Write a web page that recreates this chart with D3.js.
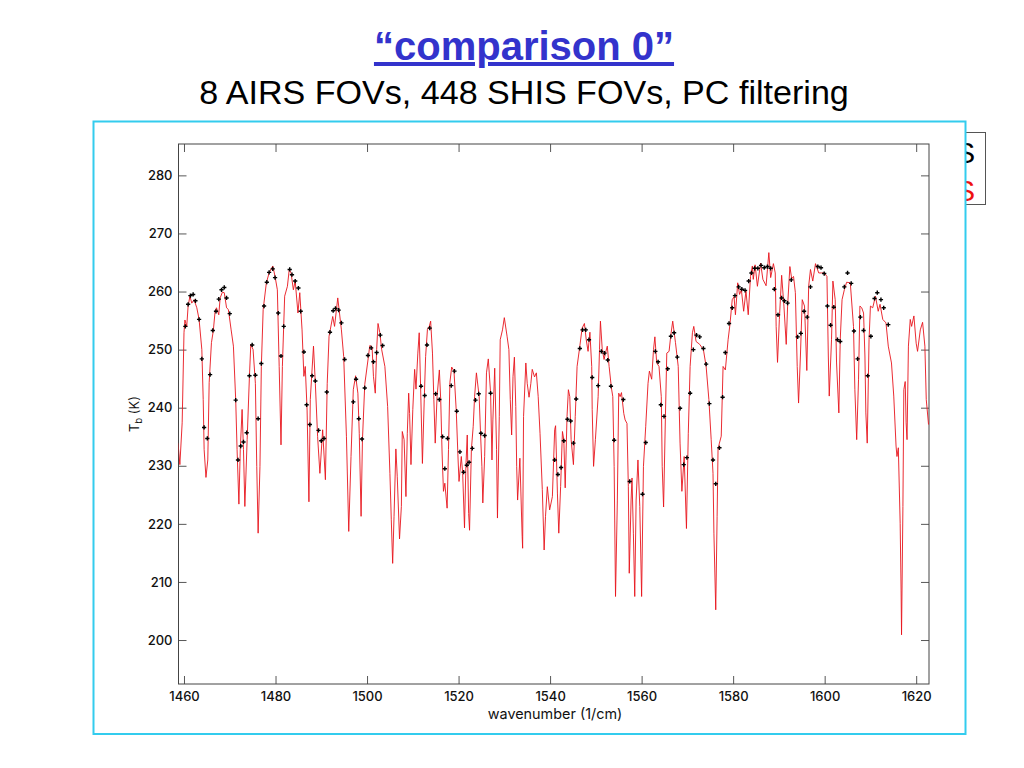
<!DOCTYPE html>
<html><head><meta charset="utf-8">
<style>html,body{margin:0;padding:0;background:#fff}svg{display:block}</style>
<script src="https://cdnjs.cloudflare.com/ajax/libs/d3/7.8.5/d3.min.js"></script>
</head><body><svg id="c" width="1024" height="768"></svg>
<script>
const titleText = "“comparison 0”";
const subtitleText = "8 AIRS FOVs, 448 SHIS FOVs, PC filtering";
const legendNames = ["AIRS","SHIS"];
const xTicks = [1460,1480,1500,1520,1540,1560,1580,1600,1620];
const yTicks = [200,210,220,230,240,250,260,270,280];
const shisWn = [1458.7,1459.1,1459.6,1460,1460.2,1460.6,1460.9,1461.3,1461.7,1462.2,1462.8,1463.3,1463.9,1464.2,1464.4,1464.8,1465.2,1465.5,1466,1466.4,1466.8,1467.1,1467.6,1467.9,1468.4,1468.8,1469.3,1469.7,1470.3,1470.8,1471.3,1471.6,1472,1472.3,1472.7,1473,1473.3,1473.8,1474.3,1474.6,1475.1,1475.6,1475.9,1476.2,1476.6,1476.9,1477.3,1478,1478.6,1479.4,1479.9,1480.4,1480.8,1481.2,1481.5,1482,1482.6,1483,1483.4,1483.9,1484.3,1484.9,1485.3,1485.8,1486.2,1486.5,1486.9,1487.3,1487.6,1487.9,1488.3,1488.7,1489.2,1489.7,1490.3,1490.9,1491.3,1491.7,1492.5,1492.9,1493.6,1494.4,1494.9,1495.5,1496,1496.5,1497,1497.5,1498,1498.3,1498.7,1499,1499.5,1500.3,1500.6,1501.1,1501.4,1501.8,1502.1,1502.4,1502.8,1503.2,1503.9,1504.5,1505,1505.3,1505.6,1505.9,1506.3,1506.6,1507.1,1507.5,1507.7,1508.1,1508.5,1508.8,1509.1,1509.3,1509.6,1510,1510.4,1510.7,1511.1,1511.4,1511.7,1512.1,1512.5,1512.8,1513.2,1513.6,1513.9,1514.3,1514.6,1514.9,1515.3,1515.8,1516.1,1516.4,1516.7,1517,1517.5,1517.8,1518.1,1518.5,1519,1519.5,1519.9,1520.1,1520.6,1520.9,1521.3,1521.6,1521.9,1522.2,1522.4,1522.8,1523.2,1523.5,1523.9,1524.5,1524.8,1525.1,1525.3,1525.7,1526.1,1526.5,1527,1527.3,1527.5,1527.9,1528.3,1528.5,1528.9,1529.1,1529.6,1530,1530.6,1531,1531.3,1531.6,1531.9,1532.2,1532.5,1532.7,1532.9,1533.4,1533.9,1534,1534.2,1534.7,1535,1535.4,1535.8,1536.1,1536.6,1537,1537.4,1537.8,1538.3,1538.7,1539,1539.4,1539.9,1540.5,1541,1541.2,1541.6,1541.9,1542.3,1542.7,1543,1543.3,1543.7,1544,1544.3,1544.6,1545.1,1545.5,1545.9,1546.5,1547,1547.5,1547.9,1548.3,1548.7,1549.1,1549.2,1549.5,1549.9,1550.5,1550.8,1551,1551.4,1551.8,1552.1,1552.5,1552.9,1553.4,1553.7,1554,1554.3,1554.7,1555,1555.3,1555.6,1556.1,1556.4,1556.8,1557.1,1557.3,1557.7,1557.9,1558.2,1558.5,1558.8,1559.2,1559.6,1560,1560.4,1560.9,1561.4,1561.7,1562.2,1562.6,1562.9,1563.3,1563.8,1564.3,1564.5,1564.8,1565.2,1565.5,1566,1566.4,1566.8,1567.4,1568,1568.4,1568.8,1569.3,1569.8,1570.2,1570.6,1571.1,1571.4,1571.9,1572.7,1573.5,1574.1,1574.7,1575.2,1575.6,1575.8,1576.2,1576.5,1576.7,1577,1577.4,1577.8,1578.3,1578.9,1579.3,1579.8,1580.2,1580.5,1581,1581.4,1581.8,1582.3,1582.8,1583.3,1583.8,1584.2,1584.4,1584.8,1585.3,1586,1586.5,1587.2,1587.8,1588.2,1588.8,1589.2,1589.4,1589.7,1590.1,1590.6,1591.1,1591.6,1591.9,1592.4,1592.8,1593.2,1593.6,1594,1594.3,1594.7,1595.1,1595.6,1596.1,1596.5,1596.9,1597.4,1598,1598.7,1599.3,1599.9,1600.5,1600.8,1601,1601.5,1601.8,1602.3,1602.6,1603.1,1603.4,1603.8,1604.3,1604.8,1605.6,1606.3,1606.6,1607,1607.4,1607.7,1608.1,1608.5,1608.8,1609,1609.3,1609.7,1610,1610.5,1611.1,1611.7,1612.1,1612.7,1613.4,1613.9,1614.6,1615.1,1615.6,1615.8,1616.1,1616.5,1616.7,1616.8,1617.1,1617.3,1617.6,1617.8,1618,1618.3,1618.7,1619,1619.5,1620,1620.3,1620.9,1621.4,1621.9,1622.2,1622.7];
const shisT = [233.9,230.2,237.4,252.9,255.1,254,257.5,259.2,258,258.6,257.2,255.2,250,241.4,232.8,228,231,244.3,251.2,253.2,256.6,257.2,256,258.9,259.9,259.8,257.2,256.9,253.4,250.6,241.4,232.8,223.4,232.8,239.7,232.8,223,234.5,245.4,250.9,250,244.2,229.9,218.4,229.9,247.1,256.9,261.5,263.2,264.4,262.6,260.3,247.1,233.6,247.1,259.2,260.9,263.8,263.2,260.3,261.8,256.3,259.8,253.4,245.4,247.1,239.6,223.8,241.4,245.4,250.6,244.2,235,228.7,236.2,227.6,244.2,252.3,255.7,254,258.9,253.4,248.8,235,218.7,231.6,243.1,245.5,242.5,235.6,221.3,234.5,244,248.8,250.7,250.5,245.4,242.5,250,254.5,252.9,250,247.1,240.2,228.7,220.7,213.2,221.3,232.9,228.2,217.4,223,235.9,234.5,224.7,235.6,242.5,239,230.2,239.7,246.6,243.2,249.4,252.9,243.7,230.4,241.4,248.8,253.5,254,254.9,249.4,241.4,233.9,241.9,246.5,241.4,232.2,225.6,227,222.7,232.8,244.3,247,246.3,239.4,231,227.3,231.6,228.7,219.3,229.9,235.3,221.8,218.9,232.8,236.8,241.9,246,241.9,235.6,229.9,223.6,231.6,246,248.4,242.5,231,237.9,246.8,232.8,221,238.5,251.7,253.4,255.5,252.3,250,241.4,235.3,245.4,248.7,240.2,229.9,224.1,231.3,217.8,215.8,238.5,247.7,244.2,241.8,244.2,246.6,245.3,246,241.9,235.6,225.9,215.5,221.3,226.4,222.4,224.7,236.2,236.9,225.3,218.4,226.4,235.9,234.5,226.2,238.5,243.1,241.9,234.5,230.2,238.5,247.1,250.6,253.7,254.5,251.7,249.7,253,247.1,239.7,229.9,234.5,241.9,250,254.9,250,248.3,249.4,250.6,247.1,243.4,241.9,229.9,207.5,224.1,242.5,241.9,242.6,239,237.9,237.3,226.4,211.5,224.1,227.9,218.4,207.5,224.1,231,223,207.5,229.9,236.8,244.2,246.3,244.9,250,252.2,247.7,247.1,241.9,229.9,222.9,238.5,249.4,249.7,252.6,254.9,251.2,247.1,233.9,225.6,231.6,219.2,235.6,247.1,252.9,254,251.4,250.9,250,247.1,241.4,234.5,228.7,218.4,205.2,221.3,232.8,233.9,235.1,247.1,246.5,251.7,254.3,258.6,259.1,256,261.5,259.5,260.3,256.6,260.1,256,262.6,264.4,262.1,264.6,260.9,264.9,262.1,261,266.7,262.4,264.8,263.2,254,247.8,255.2,262.8,257.5,250.9,257.5,264.3,262.2,262.6,259.8,247.1,240.8,248.9,258.6,257.5,246.4,260.9,263.8,261.8,264.8,263.2,263.2,263.2,262.6,248.9,242,251.7,261.8,258.6,247.7,239.1,251.7,258.6,260.3,261.6,261.5,254,243.1,234.5,244.8,257.5,257.2,256.3,248.9,239.1,233.9,251.7,257.5,257.2,259.2,256.6,257.8,255.2,254.6,250.6,247.7,242,233.4,231.6,233.1,220.1,208.6,200.9,223,243.1,244.5,237.4,234.5,250.6,255.2,254,255.8,251.1,249.7,253.4,254.7,250.6,241.4,237.1];
const airsWn = [1460.3,1460.9,1461.4,1462,1462.5,1463.3,1463.9,1464.4,1465.1,1465.7,1466.3,1467,1467.6,1468.2,1468.8,1469.3,1470,1471.3,1471.8,1472.4,1473,1473.7,1474.3,1474.9,1475.6,1476.2,1476.9,1477.5,1478.1,1478.6,1479.4,1479.9,1480.6,1481.2,1481.8,1483.1,1483.6,1484.3,1485,1485.5,1486.2,1486.8,1487.5,1488,1488.7,1489.4,1490,1490.6,1491.2,1491.9,1492.6,1493.1,1493.8,1494.4,1495.1,1497,1497.6,1498.2,1498.9,1499.5,1500.2,1500.9,1501.4,1502.1,1502.9,1503.4,1511.8,1512.6,1513.1,1513.7,1515,1515.8,1516.5,1517,1517.6,1518.4,1519.1,1519.6,1520.3,1521.1,1521.8,1522.3,1523,1523.7,1524.4,1524.9,1525.7,1527,1541,1541.7,1542.4,1543,1543.8,1544.5,1545.1,1545.7,1546.5,1547.1,1547.8,1548.5,1549.2,1550.5,1551.2,1551.9,1552.6,1553.3,1554,1556,1557.4,1560.2,1560.9,1563,1563.6,1564.2,1564.9,1565.7,1566.4,1567.1,1567.8,1568.4,1569.2,1569.9,1570.6,1571.3,1572,1572.7,1573.5,1574.1,1574.8,1575.6,1576.2,1577,1577.7,1578.3,1579.1,1579.8,1580.4,1581.2,1581.9,1582.6,1583.4,1584,1584.7,1585.4,1586.1,1586.8,1587.5,1588.2,1589,1589.8,1590.6,1591.2,1591.9,1592.7,1594.1,1594.8,1595.5,1596.2,1596.9,1598.5,1599.2,1599.9,1600.6,1601.3,1602,1602.8,1603.4,1604.3,1605,1605.8,1606.4,1607.2,1607.8,1608.5,1609.4,1610.1,1610.9,1611.5,1612.3,1612.9,1613.9];
const airsT = [254,257.8,259.3,259.5,258.4,255.2,248.4,236.6,234.7,245.7,253.3,256.6,258.7,260.3,260.7,258.9,256.2,241.3,231,233.4,234.1,235.7,245.5,250.8,245.6,238.1,247.6,257.5,261.6,263.3,263.9,262.4,256.3,248.9,254,263.8,262.9,261.8,260.6,256.6,249.6,240.5,237.1,245.5,244.6,236.1,234.3,234.7,242.7,253,256.7,257.1,256.8,254.6,248.3,241,244.9,238.1,234.6,243.4,249,250.3,247.9,249.5,252.5,250.7,243.7,242.1,250.8,253.7,242.4,241.4,235,229.5,234.7,243.8,246.3,239.4,232.4,228.9,230.1,230.6,233,241.3,242.4,235.6,235.2,242.5,231,228.5,229.7,234.3,238,237.7,233.9,241.5,250.2,253.4,253.4,251.7,245.2,243.8,249.7,249.4,248.2,243.7,234.4,241.4,227.3,225.1,234,249.7,247.9,240.5,238.5,246.7,252.3,252.9,248.7,239.9,230.2,231.4,242.5,250,252.5,252.2,250.2,247.5,240.7,231,226.9,233.1,241.8,249.5,254.5,257.2,259.3,260.8,260.4,260.2,261.8,263.2,264,264,264.5,264.1,264.3,264,260.4,256,258.9,258.4,258,262,252.2,252.8,256.6,255.6,260.8,264.3,264.1,263.1,257.5,254.2,257.3,251.7,251.4,260.8,263.2,261.4,253.2,248.4,255.6,253.3,245.5,252.3,258.8,259.8,258.6,257.2,254.3];

const svg = d3.select("#c");
const font = "'Liberation Sans',Arial,sans-serif";
const axisFont = "Inter,'Liberation Sans',sans-serif";
const x = d3.scaleLinear().domain([1458.8,1622.8]).range([178.5,929]);
const y = d3.scaleLinear().domain([192.43,285.4]).range([684,144]);

svg.append("text").attr("x",524).attr("y",60).attr("text-anchor","middle")
  .attr("font-family",font).attr("font-size",40).attr("font-weight","bold")
  .attr("fill","#3333cc").attr("text-decoration","underline").text(titleText);
svg.append("text").attr("x",524).attr("y",104).attr("text-anchor","middle")
  .attr("font-family",font).attr("font-size",34.1).attr("fill","#000").text(subtitleText);

// legend behind the panel
svg.append("rect").attr("x",800.5).attr("y",132.5).attr("width",185).attr("height",72)
  .attr("fill","#fff").attr("stroke","#555").attr("stroke-width",1);
svg.selectAll("text.leg").data(legendNames).join("text").attr("class","leg")
  .attr("x",975).attr("y",(d,i)=>163+i*38).attr("text-anchor","end")
  .attr("font-family",font).attr("font-size",29)
  .attr("fill",(d,i)=>i?"#ee1111":"#000").text(d=>d);

// panel
svg.append("rect").attr("x",93.5).attr("y",121.5).attr("width",872).attr("height",612.5)
  .attr("fill","#fff").attr("stroke","#33ccee").attr("stroke-width",2);

// axes
const g = svg.append("g");
const frameColor = "#444";
g.append("rect").attr("x",x.range()[0]).attr("y",y.range()[1])
  .attr("width",x.range()[1]-x.range()[0]).attr("height",y.range()[0]-y.range()[1])
  .attr("fill","none").attr("stroke",frameColor).attr("stroke-width",1);
const tickLen = 8;
function styleAxis(sel){
  sel.select(".domain").remove();
  sel.selectAll("line").attr("stroke",frameColor).attr("stroke-width",0.9);
  sel.selectAll("text").attr("font-family",axisFont).attr("font-size",13).attr("font-weight",500).attr("fill","#111");
}
g.append("g").attr("transform",`translate(0,${y.range()[0]})`)
  .call(d3.axisBottom(x).tickValues(xTicks).tickFormat(d3.format("d")).tickSizeInner(-tickLen).tickPadding(8))
  .call(styleAxis);
g.append("g").attr("transform",`translate(0,${y.range()[1]})`)
  .call(d3.axisTop(x).tickValues(xTicks).tickFormat("").tickSizeInner(-tickLen)).call(styleAxis);
g.append("g").attr("transform",`translate(${x.range()[0]},0)`)
  .call(d3.axisLeft(y).tickValues(yTicks).tickFormat(d3.format("d")).tickSizeInner(-tickLen).tickPadding(6))
  .call(styleAxis);
g.append("g").attr("transform",`translate(${x.range()[1]},0)`)
  .call(d3.axisRight(y).tickValues(yTicks).tickFormat("").tickSizeInner(-tickLen)).call(styleAxis);

const lab = svg.append("text").attr("transform","translate(139,414) rotate(-90)")
  .attr("text-anchor","middle").attr("font-family",axisFont).attr("font-size",13).attr("fill","#111");
lab.append("tspan").text("T");
lab.append("tspan").attr("font-size",9.5).attr("dy",3).text("b");
lab.append("tspan").attr("dy",-3).text(" (K)");
svg.append("text").attr("x",555).attr("y",719).attr("text-anchor","middle")
  .attr("font-family",axisFont).attr("font-size",14.4).attr("fill","#111").text("wavenumber (1/cm)");

// data
svg.append("clipPath").attr("id","pl").append("rect")
  .attr("x",x.range()[0]).attr("y",y.range()[1])
  .attr("width",x.range()[1]-x.range()[0]).attr("height",y.range()[0]-y.range()[1]);
const line = d3.line().x(i=>x(shisWn[i])).y(i=>y(shisT[i]));
svg.append("path").attr("clip-path","url(#pl)").attr("d",line(d3.range(shisWn.length)))
  .attr("fill","none").attr("stroke","#e8141c").attr("stroke-width",0.9).attr("stroke-linejoin","round");
const sym = d3.symbol().type(d3.symbolCross).size(10);
svg.append("g").selectAll("path").data(d3.range(airsWn.length)).join("path")
  .attr("transform",i=>`translate(${x(airsWn[i])},${y(airsT[i])})`)
  .attr("d",sym).attr("fill","#000");
</script></body></html>
